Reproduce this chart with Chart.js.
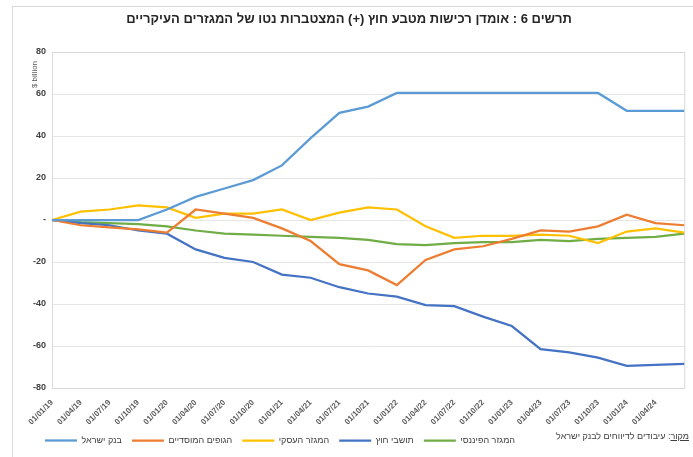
<!DOCTYPE html>
<html>
<head>
<meta charset="utf-8">
<script src="https://cdn.jsdelivr.net/npm/chart.js@4.4.1/dist/chart.umd.min.js"></script>
<style>
  html, body { margin: 0; padding: 0; background: #fff; }
  #wrap { position: relative; width: 693px; height: 457px; font-family: "Liberation Sans", Arial, sans-serif; }
  #frame { position: absolute; left: 12px; top: 6px; right: -2px; bottom: -2px; border: 1px solid #d9d9d9; pointer-events: none; }
  #title { position: absolute; left: 0; width: 698px; top: 11px; text-align: center; direction: rtl; font-size: 13px; font-weight: bold; color: #262626; white-space: nowrap; }
  #ytitle { position: absolute; left: 21px; top: 70px; font-size: 8px; color: #595959; transform: rotate(-90deg); transform-origin: center; white-space: nowrap; }
  #source { position: absolute; right: 4px; top: 431px; font-size: 9px; color: #404040; direction: rtl; white-space: nowrap; }
  #source u { text-decoration: underline; }
</style>
</head>
<body>
<div id="wrap">
  <canvas id="chart" width="693" height="457"></canvas>
  <div id="frame"></div>
  <div id="title">תרשים 6 : אומדן רכישות מטבע חוץ (+) המצטברות נטו של המגזרים העיקריים</div>
  <div id="ytitle">$ billion</div>
  <div id="source"><u>מקור</u>: עיבודים לדיווחים לבנק ישראל</div>
</div>
<script>
// תאריכים רבעוניים (התווית האחרונה לא מוצגת בציר)
const dates = ['01/01/19', '01/04/19', '01/07/19', '01/10/19', '01/01/20', '01/04/20', '01/07/20', '01/10/20',
  '01/01/21', '01/04/21', '01/07/21', '01/10/21', '01/01/22', '01/04/22', '01/07/22', '01/10/22',
  '01/01/23', '01/04/23', '01/07/23', '01/10/23', '01/01/24', '01/04/24', '01/07/24'];

const bankOfIsrael = [0, 0, 0, 0, 5, 11, 15, 19, 26, 39, 51, 54, 60.5, 60.5, 60.5, 60.5, 60.5, 60.5, 60.5, 60.5, 52, 52, 52];
const institutional = [0, -2.5, -3.5, -4.5, -6, 5, 3, 1, -4, -10, -21, -24, -31, -19, -14, -12.5, -9, -5, -5.5, -3, 2.5, -1.5, -2.5];
const business = [0, 4, 5, 7, 6, 1, 3, 3, 5, 0, 3.5, 6, 5, -3, -8.5, -7.5, -7.5, -7, -7.5, -11, -5.5, -4, -6];
const nonResidents = [0, -1.5, -2.5, -5, -6.5, -14, -18, -20, -26, -27.5, -32, -35, -36.5, -40.5, -41, -46, -50.5, -61.5, -63, -65.5, -69.5, -69, -68.5];
const financial = [0, -1, -1.5, -2, -3, -5, -6.5, -7, -7.5, -8, -8.5, -9.5, -11.5, -12, -11, -10.5, -10.5, -9.5, -10, -9, -8.5, -8, -6.5];

const yTicks = [80, 60, 40, 20, 0, -20, -40, -60, -80];

const seriesNames = ['בנק ישראל', 'הגופים המוסדיים', 'המגזר העסקי', 'תושבי חוץ', 'המגזר הפיננסי'];
const seriesData = [bankOfIsrael, institutional, business, nonResidents, financial];
const seriesColors = ['#5b9bd5', '#ed7d31', '#ffc000', '#4472c4', '#70ad47'];

// מסגרת סביב אזור השרטוט
const plotFrame = {
  id: 'plotFrame',
  beforeDatasetsDraw(chart) {
    const { ctx, chartArea: a } = chart;
    ctx.save();
    ctx.strokeStyle = '#d9d9d9';
    ctx.lineWidth = 1;
    ctx.strokeRect(a.left + 0.5, a.top + 0.5, a.right - a.left, a.bottom - a.top);
    ctx.restore();
  }
};

// הזזת המקרא ימינה, כמו במקור
const legendShift = {
  id: 'legendShift',
  afterLayout(chart) {
    chart.legend.left += 23;
    chart.legend.right += 23;
  }
};

new Chart(document.getElementById('chart'), {
  type: 'line',
  data: {
    labels: dates,
    datasets: seriesData.map((d, i) => ({
      label: seriesNames[i],
      data: d,
      borderColor: seriesColors[i],
      backgroundColor: seriesColors[i],
      borderWidth: 2.25,
      pointRadius: 0,
      tension: 0
    }))
  },
  options: {
    responsive: false,
    animation: false,
    layout: { padding: { left: 12, right: 7, top: 52, bottom: 2 } },
    plugins: {
      title: { display: false },
      legend: {
        position: 'bottom',
        align: 'start',
        labels: {
          usePointStyle: true,
          pointStyle: 'line',
          pointStyleWidth: 32,
          padding: 10,
          color: '#404040',
          font: { family: '"Liberation Sans", Arial, sans-serif', size: 9 }
        }
      },
      tooltip: { enabled: false }
    },
    scales: {
      x: {
        offset: false,
        grid: { display: false },
        border: { display: false },
        afterFit(scale) { scale.height = 38; },
        ticks: {
          autoSkip: false,
          maxRotation: 45,
          minRotation: 45,
          padding: 2,
          color: '#595959',
          font: { family: '"Liberation Sans", Arial, sans-serif', size: 8, weight: 'bold' },
          callback(value, index) { return index === dates.length - 1 ? '' : dates[index]; }
        }
      },
      y: {
        min: -80,
        max: 80,
        afterFit(scale) { scale.width = 40; },
        afterBuildTicks(scale) { scale.ticks = yTicks.map(v => ({ value: v })); },
        grid: { color: '#e6e6e6', drawTicks: false },
        border: { display: false },
        ticks: {
          padding: 6,
          color: '#404040',
          font: { family: '"Liberation Sans", Arial, sans-serif', size: 9, weight: 'bold' },
          callback(v) { return v === 0 ? '-' : v; }
        }
      }
    }
  },
  plugins: [plotFrame, legendShift]
});
</script>
</body>
</html>
